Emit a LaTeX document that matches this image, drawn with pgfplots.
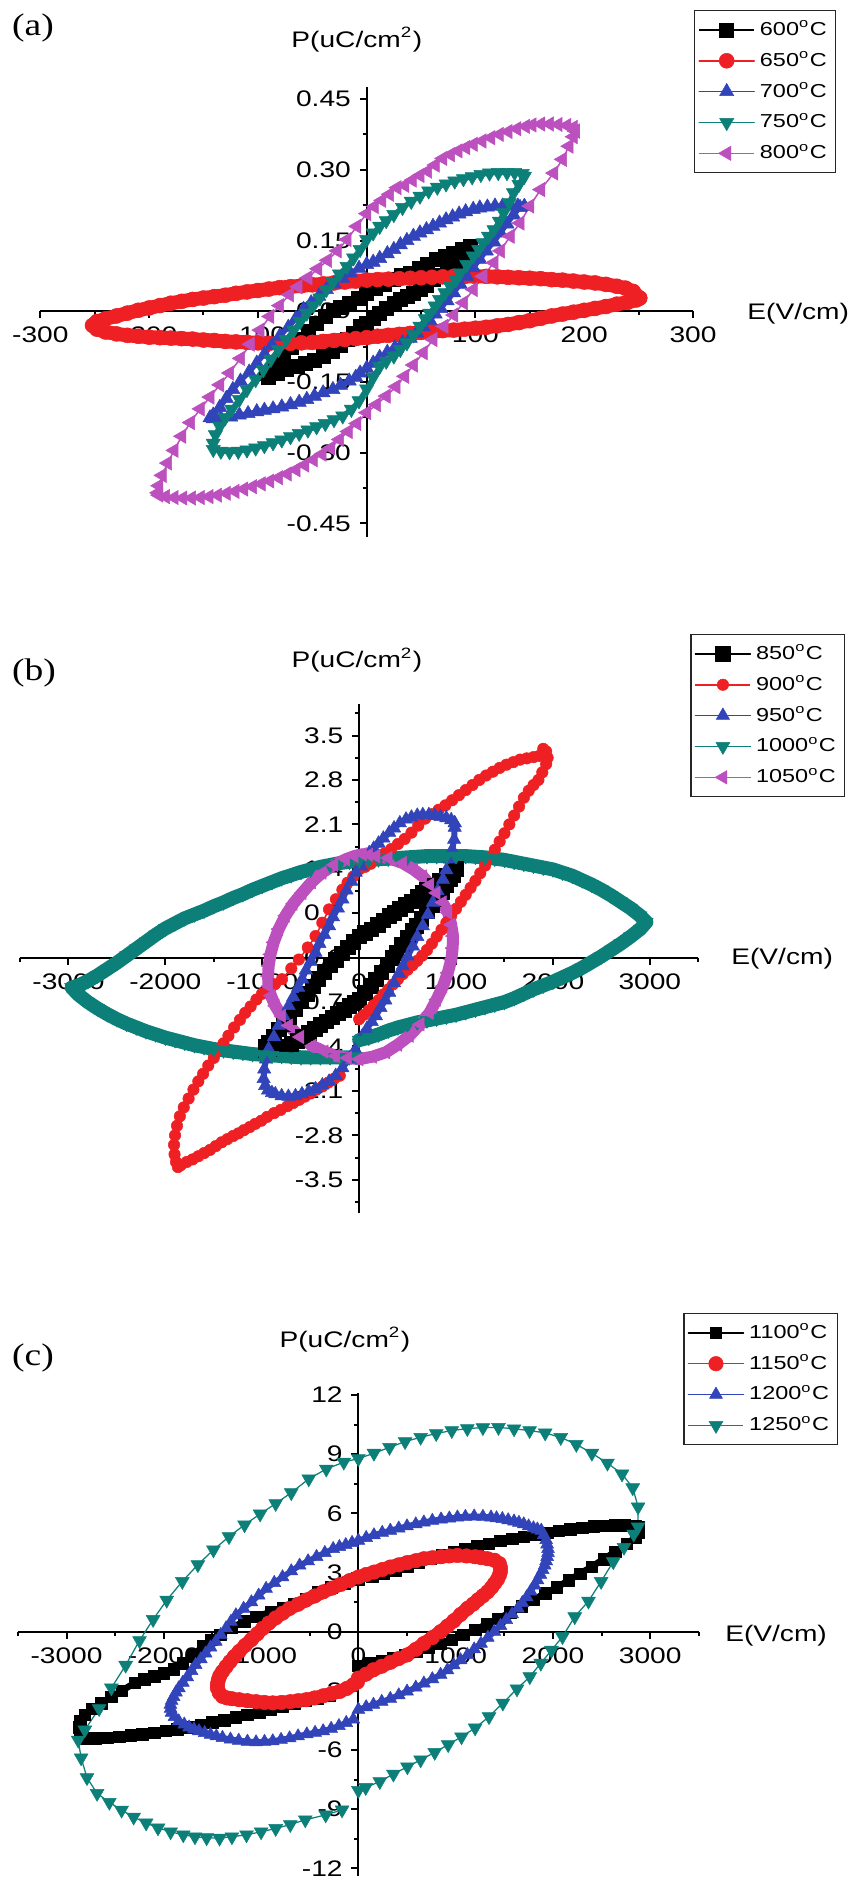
\documentclass[border=0pt]{standalone}
\usepackage{fontspec}
\setmainfont{Liberation Sans}
\newfontfamily\panelfont{Liberation Serif}
\usepackage{graphicx}
\usepackage{pgfplots}
\pgfplotsset{compat=1.18}
\definecolor{cred}{RGB}{238,32,36}
\definecolor{cblue}{RGB}{50,68,185}
\definecolor{cteal}{RGB}{12,128,120}
\definecolor{cmag}{RGB}{188,80,190}
\newcommand\sx[1]{\scalebox{1.25}[1]{\fontsize{9}{11}\selectfont #1}}
\newcommand\lx[1]{\scalebox{1.25}[1]{\fontsize{7.5}{9}\selectfont #1}}
\newcommand\px[1]{\scalebox{1.2}[1]{\panelfont\fontsize{12.5}{14}\selectfont #1}}
\tikzset{
  lbl/.style={inner sep=0pt},
  thick band/.style={line join=round, line cap=round},
}
\pgfplotsset{
  pe/.style={
    scale only axis, anchor=south west, clip=false,
    axis lines=middle, axis line style={-, line width=0.8pt},
    tick align=outside, major tick length=2.8pt, minor tick length=1.6pt,
    tick style={line width=0.8pt, black},
    hide obscured x ticks=false, hide obscured y ticks=false,
    legend cell align=left,
    legend style={draw=black!85, line width=0.6pt, anchor=north west,
      inner xsep=1.5pt, inner ysep=2pt, row sep=1.0pt},
    legend image code/.code={\draw[mark repeat=2,mark phase=2,line width=0.6pt]
      plot coordinates {(0pt,0pt) (11pt,0pt) (22pt,0pt)};},
  },
}
\begin{document}
\begin{tikzpicture}
\useasboundingbox (0,0) rectangle (342pt,752pt);
\node[inner sep=0pt] at (13.2pt,740.8pt) {\px{(a)}};
\node[inner sep=0pt] at (13.6pt,482.8pt) {\px{(b)}};
\node[inner sep=0pt] at (13.2pt,208.8pt) {\px{(c)}};

% ---------------- (a) ----------------
\begin{axis}[pe, at={(16.12pt,537.32pt)}, width=261.08pt, height=179.68pt,
  xmin=-300, xmax=300, ymin=-0.478, ymax=0.4745,
  xtick={-300,-200,-100,0,100,200,300},
  xticklabels={\sx{-300},\sx{-200},\sx{-100},\sx{0},\sx{100},\sx{200},\sx{300}},
  minor xtick={-250,-150,-50,50,150,250},
  ytick={-0.45,-0.3,-0.15,0,0.15,0.3,0.45},
  yticklabels={\sx{-0.45},\sx{-0.30},\sx{-0.15},\sx{0.00},\sx{0.15},\sx{0.30},\sx{0.45}},
  minor ytick={-0.375,-0.225,-0.075,0.075,0.225,0.375},
  legend style={at={(1.0015,1.1725)}}]
\addplot[color=black, line width=0.6pt, mark=square*, mark size=2.8pt, mark options={solid,line width=0.2pt}] coordinates {
(95,0.138) (88,0.131) (80,0.124) (72,0.117) (64,0.110) (56,0.100) (48,0.091) (40,0.081) (32,0.076) (24,0.068) (16,0.058) (8,0.048) (0,0.039) (-8,0.027) (-16,0.017) (-24,0.008) (-31,0.002) (-38,-0.010) (-46,-0.025) (-54,-0.042) (-61,-0.060) (-69,-0.077) (-77,-0.095) (-84,-0.113) (-92,-0.131)
(-90,-0.140) (-82,-0.131) (-74,-0.124) (-64,-0.117) (-56,-0.110) (-48,-0.103) (-40,-0.095) (-32,-0.084) (-24,-0.072) (-18,-0.060) (-12,-0.046) (-6,-0.032) (0,-0.025) (6,-0.014) (12,-0.004) (18,0.007) (25,0.018) (31,0.025) (37,0.032) (43,0.039) (49,0.046) (55,0.056) (61,0.067) (67,0.077) (74,0.088) (81,0.102) (89,0.117) (95,0.132)};
\addlegendentry{\lx{600\textsuperscript{o}C}}
\addplot[color=cred, thick band, line width=5.6pt, mark=*, mark size=3.0pt, mark options={solid,line width=0.2pt}] coordinates {
(251,0.028) (245,0.042) (238,0.049) (230,0.053) (220,0.057) (210,0.060) (200,0.062) (190,0.064) (180,0.066) (170,0.067) (160,0.069) (150,0.070) (140,0.071) (130,0.072) (120,0.073) (110,0.074) (100,0.074) (90,0.074) (80,0.074) (70,0.073) (60,0.072) (50,0.071) (40,0.070) (30,0.069) (20,0.068) (10,0.067) (0,0.066) (-10,0.064) (-20,0.062) (-30,0.060) (-40,0.058) (-50,0.056) (-60,0.054) (-70,0.052) (-80,0.050) (-90,0.047) (-100,0.044) (-110,0.041) (-120,0.038) (-130,0.034) (-140,0.031) (-150,0.028) (-160,0.025) (-170,0.021) (-180,0.017) (-190,0.012) (-200,0.007) (-210,0.002) (-220,-0.004) (-230,-0.010) (-240,-0.016) (-248,-0.022) (-252,-0.030)
(-248,-0.038) (-240,-0.044) (-230,-0.048) (-220,-0.051) (-210,-0.053) (-200,-0.055) (-190,-0.056) (-180,-0.057) (-170,-0.058) (-160,-0.059) (-150,-0.061) (-140,-0.062) (-130,-0.064) (-120,-0.065) (-110,-0.066) (-100,-0.067) (-90,-0.068) (-80,-0.068) (-70,-0.068) (-60,-0.067) (-50,-0.066) (-40,-0.064) (-30,-0.062) (-20,-0.060) (-10,-0.058) (0,-0.056) (10,-0.053) (20,-0.051) (30,-0.049) (40,-0.047) (50,-0.045) (60,-0.043) (70,-0.041) (80,-0.040) (90,-0.038) (100,-0.036) (110,-0.034) (120,-0.031) (130,-0.028) (140,-0.024) (150,-0.020) (160,-0.015) (170,-0.010) (180,-0.006) (190,-0.002) (200,0.002) (210,0.006) (220,0.010) (230,0.015) (240,0.019) (248,0.024) (251,0.028)};
\addlegendentry{\lx{650\textsuperscript{o}C}}
\addplot[color=cblue, thick band, line width=2pt, mark=triangle*, mark size=3.3pt, mark options={solid,line width=0.2pt}] coordinates {
(145,0.222) (139,0.223) (132,0.223) (125,0.223) (118,0.223) (111,0.221) (104,0.219) (98,0.216) (91,0.211) (85,0.206) (79,0.200) (73,0.194) (67,0.187) (61,0.180) (55,0.173) (49,0.166) (43,0.159) (37,0.150) (31,0.141) (25,0.131) (19,0.122) (12,0.112) (6,0.104) (0,0.099) (-7,0.091) (-15,0.081) (-22,0.070) (-30,0.058) (-37,0.046) (-44,0.032) (-51,0.018) (-58,0.004) (-65,-0.015) (-72,-0.034) (-80,-0.053) (-87,-0.072) (-94,-0.091) (-101,-0.110) (-108,-0.129) (-116,-0.148) (-123,-0.166) (-129,-0.185) (-135,-0.204) (-141,-0.220) (-144,-0.226)
(-141,-0.228) (-134,-0.227) (-125,-0.224) (-117,-0.220) (-109,-0.217) (-101,-0.213) (-94,-0.210) (-86,-0.207) (-78,-0.203) (-70,-0.198) (-62,-0.193) (-55,-0.187) (-48,-0.180) (-40,-0.173) (-31,-0.166) (-24,-0.157) (-16,-0.148) (-10,-0.140) (-6,-0.131)
(0,-0.121) (6,-0.110) (12,-0.098) (19,-0.087) (26,-0.077) (33,-0.067) (40,-0.057) (46,-0.046) (52,-0.033) (58,-0.019) (63,-0.006) (68,0.006) (74,0.022) (80,0.039) (86,0.057) (92,0.074) (98,0.092) (104,0.110) (110,0.128) (117,0.147) (123,0.166) (129,0.185) (135,0.204) (141,0.220) (145,0.222)};
\addlegendentry{\lx{700\textsuperscript{o}C}}
\addplot[color=cteal, thick band, line width=2pt, mark=triangle*, mark size=3.3pt, mark options={solid,rotate=180,line width=0.2pt}] coordinates {
(145,0.286) (143,0.292) (136,0.294) (129,0.294) (121,0.294) (113,0.293) (105,0.290) (97,0.285) (89,0.281) (81,0.276) (73,0.270) (65,0.263) (57,0.255) (49,0.244) (41,0.233) (33,0.220) (25,0.205) (18,0.192) (12,0.180) (6,0.166) (0,0.152) (-6,0.131) (-12,0.113) (-18,0.095) (-25,0.079) (-31,0.062) (-37,0.046) (-43,0.028) (-49,0.012) (-55,-0.004) (-61,-0.022) (-67,-0.040) (-74,-0.060) (-81,-0.081) (-88,-0.102) (-95,-0.124) (-102,-0.145) (-110,-0.166) (-117,-0.187) (-124,-0.208) (-130,-0.226) (-135,-0.244) (-139,-0.262) (-141,-0.280)
(-141,-0.293) (-134,-0.297) (-126,-0.298) (-118,-0.297) (-110,-0.294) (-102,-0.290) (-94,-0.285) (-86,-0.279) (-78,-0.273) (-70,-0.266) (-62,-0.259) (-54,-0.252) (-46,-0.245) (-38,-0.238) (-30,-0.230) (-22,-0.222) (-14,-0.208) (-7,-0.190) (0,-0.165) (6,-0.140) (12,-0.117) (18,-0.106) (25,-0.095) (31,-0.081) (37,-0.067) (43,-0.050) (49,-0.032) (54,-0.016) (58,-0.004) (63,0.011) (67,0.025) (72,0.039) (77,0.053) (82,0.067) (86,0.081) (92,0.099) (98,0.117) (103,0.131) (107,0.145) (112,0.159) (117,0.173) (122,0.191) (126,0.209) (131,0.230) (135,0.251) (140,0.269) (144,0.286)};
\addlegendentry{\lx{750\textsuperscript{o}C}}
\addplot[color=cmag, line width=0.6pt, mark=triangle*, mark size=3.3pt, mark options={solid,rotate=90,line width=0.2pt}] coordinates {
(192,0.382) (190,0.390) (184,0.394) (176,0.396) (168,0.397) (160,0.397) (152,0.395) (146,0.392) (138,0.387) (130,0.381) (122,0.375) (114,0.368) (106,0.361) (98,0.354) (91,0.347) (84,0.340) (77,0.332) (70,0.324) (63,0.310) (56,0.297) (49,0.288) (42,0.278) (35,0.267) (28,0.262) (21,0.248) (14,0.235) (7,0.222) (0,0.207) (-9,0.180) (-18,0.152) (-27,0.128) (-36,0.108) (-45,0.090) (-54,0.071) (-63,0.052) (-71,0.035) (-80,0.012) (-89,-0.011) (-98,-0.040) (-107,-0.070) (-116,-0.100) (-126,-0.131) (-135,-0.156) (-144,-0.182) (-153,-0.207) (-162,-0.236) (-170,-0.265) (-177,-0.295) (-183,-0.322) (-188,-0.348) (-191,-0.370) (-192,-0.385)
(-191,-0.390) (-185,-0.393) (-177,-0.395) (-169,-0.396) (-161,-0.396) (-153,-0.395) (-145,-0.393) (-137,-0.390) (-129,-0.386) (-121,-0.382) (-113,-0.377) (-105,-0.372) (-97,-0.366) (-89,-0.360) (-81,-0.353) (-73,-0.345) (-65,-0.336) (-57,-0.326) (-49,-0.315) (-41,-0.303) (-33,-0.290) (-25,-0.272) (-17,-0.255) (-9,-0.238) (0,-0.215) (9,-0.198) (18,-0.180) (27,-0.160) (35,-0.138) (43,-0.114) (52,-0.088) (61,-0.060) (71,-0.032) (80,-0.008) (89,0.018) (98,0.046) (107,0.074) (117,0.103) (123,0.128) (132,0.159) (141,0.187) (150,0.223) (160,0.258) (172,0.293) (180,0.322) (186,0.350) (190,0.370) (192,0.382)};
\addlegendentry{\lx{800\textsuperscript{o}C}}
\node[lbl, anchor=west] at (axis description cs:1.0827,0.4958) {\sx{E(V/cm)}};
\node[lbl, anchor=center] at (axis description cs:0.485,1.106) {\sx{P(uC/cm\textsuperscript{2})}};
\end{axis}

% ---------------- (b) ----------------
\begin{axis}[pe, at={(8.0pt,266.64pt)}, width=271.32pt, height=203.84pt,
  xmin=-3500, xmax=3500, ymin=-4.03, ymax=4.0,
  xtick={-3000,-2000,-1000,0,1000,2000,3000},
  xticklabels={\sx{-3000},\sx{-2000},\sx{-1000},\sx{0},\sx{1000},\sx{2000},\sx{3000}},
  minor xtick={-3500,-2500,-1500,-500,500,1500,2500,3500},
  ytick={-3.5,-2.8,-2.1,-1.4,-0.7,0,0.7,1.4,2.1,2.8,3.5},
  yticklabels={\sx{-3.5},\sx{-2.8},\sx{-2.1},\sx{-1.4},\sx{-0.7},\sx{0.0},\sx{0.7},\sx{1.4},\sx{2.1},\sx{2.8},\sx{3.5}},
  minor ytick={-3.85,-3.15,-2.45,-1.75,-1.05,-0.35,0.35,1.05,1.75,2.45,3.15,3.85},
  legend style={at={(0.988,1.137)}}]
\addplot[color=black, thick band, line width=5pt, mark=square*, mark size=2.9pt, mark options={solid,line width=0.2pt}] coordinates {
(1003,1.40) (969,1.35) (900,1.29) (830,1.21) (760,1.14) (700,1.07) (657,1.02) (600,0.96) (540,0.89) (480,0.83) (420,0.77) (360,0.71) (311,0.66) (250,0.59) (190,0.52) (125,0.45) (60,0.39) (0,0.34) (-60,0.25) (-120,0.16) (-180,0.07) (-242,-0.03) (-300,-0.12) (-360,-0.22) (-420,-0.33) (-480,-0.45) (-540,-0.57) (-600,-0.68) (-657,-0.81) (-720,-0.93) (-780,-1.04) (-830,-1.13) (-880,-1.24) (-934,-1.34) (-969,-1.40)
(-969,-1.45) (-900,-1.44) (-830,-1.42) (-760,-1.40) (-700,-1.36) (-640,-1.31) (-580,-1.25) (-519,-1.18) (-460,-1.12) (-400,-1.06) (-340,-1.00) (-280,-0.94) (-220,-0.88) (-160,-0.82) (-104,-0.76) (-50,-0.71) (0,-0.66) (60,-0.55) (120,-0.44) (173,-0.34) (230,-0.23) (290,-0.11) (340,0.00) (381,0.08) (440,0.20) (500,0.32) (550,0.42) (588,0.50) (640,0.61) (700,0.73) (750,0.83) (796,0.92) (850,1.03) (900,1.14) (940,1.24) (969,1.31) (1003,1.40)};
\addlegendentry{\lx{850\textsuperscript{o}C}}
\addplot[color=cred, line width=0.6pt, mark=*, mark size=2.3pt, mark options={solid,line width=0.2pt}] coordinates {
(0,-0.97) (50,-0.90) (100,-0.83) (150,-0.75) (200,-0.67) (250,-0.58) (300,-0.50) (350,-0.42) (400,-0.34) (450,-0.26) (500,-0.19) (550,-0.12) (600,-0.05) (650,0.03) (700,0.12) (750,0.22) (800,0.33) (850,0.44) (900,0.55) (950,0.66) (1000,0.77) (1050,0.88) (1100,0.99) (1150,1.10) (1200,1.21) (1250,1.33) (1300,1.45) (1350,1.57) (1400,1.70) (1450,1.83) (1500,1.96) (1550,2.10) (1600,2.24) (1650,2.38) (1700,2.52) (1750,2.63) (1800,2.72) (1850,2.80) (1890,2.92) (1930,3.05) (1945,3.15) (1930,3.25) (1900,3.29)
(1860,3.18) (1800,3.16) (1730,3.14) (1660,3.12) (1590,3.08) (1520,3.04) (1450,2.99) (1380,2.93) (1310,2.87) (1240,2.80) (1170,2.72) (1100,2.64) (1030,2.56) (960,2.48) (890,2.40) (820,2.33) (750,2.26) (680,2.19) (610,2.08) (540,1.97) (470,1.87) (400,1.79) (330,1.71) (260,1.64) (190,1.57) (120,1.48) (60,1.43) (0,1.39) (-60,1.28) (-120,1.18) (-173,1.07) (-240,0.92) (-311,0.76) (-380,0.55) (-450,0.34) (-530,0.16) (-623,-0.03) (-700,-0.17) (-796,-0.34) (-870,-0.42) (-940,-0.49) (-1003,-0.57) (-1060,-0.66) (-1120,-0.77) (-1176,-0.87) (-1230,-0.98) (-1290,-1.10) (-1349,-1.23) (-1400,-1.35) (-1450,-1.46) (-1500,-1.58) (-1557,-1.70) (-1610,-1.83) (-1660,-1.95) (-1710,-2.08) (-1760,-2.22) (-1810,-2.36) (-1850,-2.50) (-1880,-2.65) (-1900,-2.80) (-1910,-2.95) (-1905,-3.10) (-1890,-3.22) (-1870,-3.30)
(-1840,-3.27) (-1780,-3.22) (-1720,-3.18) (-1660,-3.13) (-1600,-3.08) (-1540,-3.03) (-1480,-2.97) (-1419,-2.91) (-1360,-2.86) (-1300,-2.81) (-1247,-2.77) (-1190,-2.72) (-1130,-2.67) (-1073,-2.62) (-1010,-2.57) (-950,-2.51) (-878,-2.45) (-810,-2.40) (-740,-2.34) (-680,-2.29) (-620,-2.24) (-560,-2.19) (-500,-2.14) (-440,-2.08) (-380,-2.03) (-320,-1.97) (-260,-1.91) (-200,-1.86)};
\addlegendentry{\lx{900\textsuperscript{o}C}}
\addplot[color=cblue, thick band, line width=2.4pt, mark=triangle*, mark size=3.1pt, mark options={solid,line width=0.2pt}] coordinates {
(986,2.12) (950,2.17) (900,2.20) (840,2.22) (780,2.24) (720,2.25) (657,2.25) (600,2.24) (540,2.21) (484,2.18) (420,2.12) (360,2.04) (311,1.97) (250,1.88) (200,1.80) (150,1.72) (104,1.65) (60,1.55) (20,1.44) (-35,1.34) (-80,1.20) (-130,1.06) (-173,0.92) (-220,0.78) (-270,0.64) (-311,0.50) (-360,0.36) (-410,0.22) (-450,0.08) (-500,-0.06) (-550,-0.20) (-588,-0.34) (-630,-0.47) (-680,-0.62) (-727,-0.76) (-780,-0.92) (-830,-1.07) (-880,-1.25) (-934,-1.44) (-960,-1.60) (-980,-1.76) (-986,-1.91)
(-970,-2.02) (-940,-2.09) (-900,-2.13) (-865,-2.15) (-800,-2.18) (-730,-2.19) (-657,-2.18) (-590,-2.15) (-520,-2.11) (-450,-2.07) (-380,-2.01) (-310,-1.95) (-242,-1.86) (-173,-1.74) (-104,-1.60) (-40,-1.45) (35,-1.23) (80,-1.12) (130,-1.01) (173,-0.92) (220,-0.79) (270,-0.67) (311,-0.55) (360,-0.40) (410,-0.25) (450,-0.13) (500,0.02) (554,0.18) (600,0.33) (657,0.50) (710,0.68) (761,0.87) (810,1.05) (865,1.23) (900,1.38) (934,1.55) (960,1.70) (980,1.86) (986,2.05) (986,2.12)};
\addlegendentry{\lx{950\textsuperscript{o}C}}
\addplot[color=cteal, thick band, line width=5.6pt, mark=triangle*, mark size=3.2pt, mark options={solid,rotate=180,line width=0.2pt}] coordinates {
(0,-1.30) (100,-1.26) (200,-1.21) (300,-1.15) (400,-1.10) (500,-1.06) (600,-1.02) (700,-0.99) (800,-0.96) (900,-0.93) (1000,-0.90) (1100,-0.86) (1200,-0.82) (1300,-0.78) (1400,-0.74) (1500,-0.70) (1600,-0.64) (1700,-0.57) (1800,-0.50) (1900,-0.44) (2000,-0.38) (2100,-0.31) (2200,-0.24) (2300,-0.16) (2400,-0.07) (2500,0.02) (2600,0.12) (2700,0.22) (2800,0.33) (2900,0.45) (2964,0.56)
(2900,0.66) (2800,0.78) (2700,0.88) (2600,0.98) (2500,1.07) (2400,1.15) (2300,1.22) (2200,1.29) (2100,1.34) (2000,1.39) (1900,1.42) (1800,1.45) (1700,1.48) (1600,1.51) (1500,1.54) (1400,1.56) (1300,1.58) (1200,1.59) (1100,1.60) (1000,1.60) (900,1.60) (800,1.60) (700,1.60) (600,1.59) (500,1.58) (400,1.57) (300,1.56) (200,1.55) (100,1.54) (0,1.53) (-100,1.51) (-200,1.49) (-300,1.46) (-400,1.43) (-500,1.39) (-600,1.35) (-700,1.30) (-800,1.25) (-900,1.19) (-1000,1.13) (-1100,1.07) (-1200,1.00) (-1300,0.94) (-1400,0.87) (-1500,0.81) (-1600,0.74) (-1700,0.68) (-1800,0.62) (-1900,0.54) (-2000,0.46) (-2100,0.36) (-2200,0.25) (-2300,0.14) (-2400,0.03) (-2500,-0.08) (-2600,-0.18) (-2700,-0.28) (-2800,-0.37) (-2900,-0.44) (-2968,-0.47)
(-2900,-0.58) (-2800,-0.70) (-2700,-0.80) (-2600,-0.89) (-2500,-0.97) (-2400,-1.04) (-2300,-1.10) (-2200,-1.16) (-2100,-1.21) (-2000,-1.26) (-1900,-1.30) (-1800,-1.34) (-1700,-1.38) (-1600,-1.41) (-1500,-1.44) (-1400,-1.46) (-1300,-1.48) (-1200,-1.50) (-1100,-1.52) (-1000,-1.53) (-900,-1.54) (-800,-1.55) (-700,-1.56) (-600,-1.57) (-500,-1.57) (-400,-1.57) (-300,-1.57) (-200,-1.57) (-100,-1.57) (-30,-1.56)};
\addlegendentry{\lx{1000\textsuperscript{o}C}}
\addplot[color=cmag, thick band, line width=4.8pt, mark=triangle*, mark size=3.1pt, mark options={solid,rotate=90,line width=0.2pt}] coordinates {
(173,1.60) (300,1.57) (450,1.49) (560,1.39) (657,1.28) (730,1.15) (796,1.02) (860,0.87) (917,0.71) (950,0.52) (969,0.34) (965,0.15) (951,-0.03) (915,-0.24) (865,-0.45) (800,-0.66) (727,-0.87) (630,-1.05) (519,-1.23) (400,-1.37) (277,-1.49) (140,-1.56) (0,-1.60) (-120,-1.58) (-242,-1.55) (-360,-1.48) (-484,-1.39) (-610,-1.25) (-727,-1.07) (-800,-0.92) (-865,-0.76) (-910,-0.60) (-934,-0.45) (-940,-0.29) (-934,-0.13) (-915,0.05) (-882,0.24) (-830,0.45) (-761,0.66) (-680,0.85) (-588,1.02) (-490,1.19) (-381,1.34) (-260,1.46) (-138,1.55) (-50,1.60) (35,1.63) (100,1.62) (173,1.60)};
\addlegendentry{\lx{1050\textsuperscript{o}C}}
\node[lbl, anchor=west] at (axis description cs:1.048,0.4992) {\sx{E(V/cm)}};
\node[lbl, anchor=center] at (axis description cs:0.4968,1.086) {\sx{P(uC/cm\textsuperscript{2})}};
\end{axis}

% ---------------- (c) ----------------
\begin{axis}[pe, at={(7.16pt,1.52pt)}, width=272.4pt, height=193.24pt,
  xmin=-3500, xmax=3500, ymin=-12.4, ymax=12.1,
  xtick={-3000,-2000,-1000,0,1000,2000,3000},
  xticklabels={\sx{-3000},\sx{-2000},\sx{-1000},\sx{0},\sx{1000},\sx{2000},\sx{3000}},
  minor xtick={-3500,-2500,-1500,-500,500,1500,2500,3500},
  ytick={-12,-9,-6,-3,0,3,6,9,12},
  yticklabels={\sx{-12},\sx{-9},\sx{-6},\sx{-3},\sx{0},\sx{3},\sx{6},\sx{9},\sx{12}},
  minor ytick={-10.5,-7.5,-4.5,-1.5,1.5,4.5,7.5,10.5},
  legend style={at={(0.977,1.166)}}]
\addplot[color=black, thick band, line width=2.6pt, mark=square*, mark size=2.3pt, mark options={solid,line width=0.2pt}] coordinates {
(0,-1.72) (120,-1.60) (240,-1.47) (360,-1.32) (480,-1.17) (600,-1.00) (720,-0.82) (840,-0.62) (960,-0.40) (1080,-0.15) (1200,0.10) (1320,0.38) (1440,0.66) (1560,0.98) (1680,1.30) (1800,1.62) (1920,1.95) (2040,2.25) (2160,2.60) (2280,2.95) (2400,3.30) (2520,3.68) (2640,4.05) (2760,4.45) (2850,4.80) (2880,5.05) (2880,5.30)
(2850,5.35) (2740,5.40) (2640,5.40) (2530,5.38) (2420,5.34) (2300,5.28) (2180,5.20) (2060,5.12) (1940,5.02) (1820,4.92) (1700,4.82) (1580,4.72) (1460,4.60) (1340,4.47) (1220,4.34) (1100,4.20) (980,4.05) (860,3.88) (740,3.70) (620,3.50) (500,3.30) (380,3.12) (260,2.95) (140,2.80) (0,2.65) (-140,2.45) (-280,2.25) (-420,2.00) (-540,1.68) (-660,1.42) (-780,1.20) (-900,1.00) (-1052,0.76) (-1175,0.52) (-1300,0.20) (-1420,-0.15) (-1511,-0.40) (-1600,-0.75) (-1700,-1.20) (-1804,-1.60) (-1900,-1.90) (-2000,-2.10) (-2098,-2.25) (-2200,-2.40) (-2300,-2.60) (-2434,-3.00) (-2540,-3.30) (-2644,-3.63) (-2740,-3.90) (-2812,-4.20) (-2860,-4.55) (-2875,-4.85) (-2860,-5.15)
(-2810,-5.40) (-2700,-5.40) (-2580,-5.37) (-2460,-5.32) (-2340,-5.26) (-2220,-5.20) (-2100,-5.12) (-1980,-5.03) (-1860,-4.94) (-1740,-4.84) (-1620,-4.72) (-1500,-4.60) (-1380,-4.48) (-1260,-4.35) (-1140,-4.22) (-1020,-4.08) (-900,-3.95) (-780,-3.80) (-660,-3.65) (-540,-3.50) (-420,-3.38) (-300,-3.25)};
\addlegendentry{\lx{1100\textsuperscript{o}C}}
\addplot[color=cred, thick band, line width=5.4pt, mark=*, mark size=2.9pt, mark options={solid,line width=0.2pt}] coordinates {
(0,-2.35) (80,-2.15) (155,-1.93) (240,-1.75) (330,-1.55) (415,-1.36) (500,-1.18) (590,-0.90) (673,-0.60) (760,-0.30) (845,0.00) (915,0.28) (980,0.55) (1050,0.87) (1121,1.18) (1180,1.40) (1230,1.62) (1280,1.82) (1328,2.02) (1370,2.25) (1400,2.45) (1430,2.66) (1449,2.86) (1460,3.05) (1460,3.25) (1449,3.45)
(1400,3.62) (1328,3.70) (1260,3.76) (1200,3.80) (1110,3.84) (1018,3.87) (935,3.84) (850,3.80) (760,3.75) (673,3.70) (590,3.60) (500,3.50) (415,3.39) (328,3.28) (245,3.15) (160,3.02) (80,2.90) (0,2.77) (-90,2.59) (-180,2.40) (-270,2.21) (-362,2.02) (-450,1.81) (-540,1.60) (-620,1.39) (-707,1.18) (-780,0.94) (-850,0.70) (-920,0.44) (-983,0.17) (-1040,-0.11) (-1100,-0.40) (-1165,-0.70) (-1225,-1.00) (-1275,-1.26) (-1320,-1.52) (-1360,-1.77) (-1397,-2.02) (-1425,-2.24) (-1440,-2.45) (-1449,-2.66) (-1449,-2.86) (-1430,-3.10) (-1397,-3.28)
(-1350,-3.36) (-1300,-3.40) (-1225,-3.45) (-1140,-3.50) (-1050,-3.55) (-965,-3.59) (-880,-3.61) (-790,-3.59) (-700,-3.55) (-620,-3.50) (-535,-3.45) (-450,-3.36) (-360,-3.25) (-275,-3.14) (-190,-3.03) (-120,-2.88) (-52,-2.69) (-10,-2.55)};
\addlegendentry{\lx{1150\textsuperscript{o}C}}
\addplot[color=cblue, thick band, line width=2.3pt, mark=triangle*, mark size=3.0pt, mark options={solid,line width=0.2pt}] coordinates {
(0,-3.95) (80,-3.82) (155,-3.70) (240,-3.55) (328,-3.40) (415,-3.22) (500,-3.03) (590,-2.83) (673,-2.62) (760,-2.40) (845,-2.18) (915,-1.95) (980,-1.70) (1050,-1.44) (1121,-1.18) (1190,-0.89) (1260,-0.60) (1330,-0.30) (1397,0.00) (1460,0.30) (1520,0.60) (1580,0.89) (1639,1.18) (1685,1.46) (1730,1.75) (1770,2.05) (1811,2.35) (1840,2.62) (1870,2.90) (1895,3.13) (1915,3.36) (1930,3.58) (1940,3.80) (1949,4.00) (1949,4.20) (1940,4.43) (1930,4.65) (1905,4.90) (1880,5.13)
(1840,5.19) (1800,5.25) (1750,5.35) (1700,5.45) (1650,5.53) (1600,5.60) (1540,5.66) (1480,5.72) (1420,5.76) (1363,5.80) (1280,5.83) (1190,5.85) (1100,5.83) (1018,5.80) (935,5.75) (850,5.70) (760,5.63) (673,5.55) (590,5.45) (500,5.35) (415,5.24) (328,5.13) (245,5.02) (160,4.90) (80,4.76) (0,4.62) (-65,4.51) (-130,4.40) (-195,4.30) (-259,4.20) (-345,4.00) (-430,3.80) (-517,3.58) (-604,3.36) (-690,3.07) (-780,2.77) (-865,2.48) (-949,2.18) (-1025,1.84) (-1100,1.50) (-1180,1.17) (-1259,0.84) (-1310,0.51) (-1360,0.18) (-1415,-0.16) (-1466,-0.50) (-1520,-0.80) (-1570,-1.10) (-1620,-1.39) (-1673,-1.68) (-1715,-1.99) (-1760,-2.30) (-1805,-2.58) (-1846,-2.86) (-1875,-3.08) (-1900,-3.30) (-1920,-3.50) (-1932,-3.70) (-1930,-3.90) (-1920,-4.10) (-1890,-4.32) (-1846,-4.54)
(-1790,-4.70) (-1740,-4.85) (-1690,-4.95) (-1639,-5.04) (-1580,-5.13) (-1520,-5.22) (-1460,-5.30) (-1397,-5.38) (-1315,-5.46) (-1230,-5.52) (-1140,-5.57) (-1052,-5.60) (-965,-5.58) (-880,-5.55) (-795,-5.48) (-707,-5.40) (-620,-5.30) (-530,-5.20) (-445,-5.12) (-362,-5.04) (-280,-4.92) (-200,-4.78) (-125,-4.62) (-52,-4.45)};
\addlegendentry{\lx{1200\textsuperscript{o}C}}
\addplot[color=cteal, line width=0.5pt, mark=triangle*, mark size=3.2pt, mark options={solid,rotate=180,line width=0.2pt}] coordinates {
(-168,-9.04) (-336,-9.29) (-546,-9.54) (-700,-9.78) (-850,-9.98) (-1000,-10.15) (-1150,-10.30) (-1300,-10.40) (-1427,-10.47) (-1560,-10.45) (-1680,-10.40) (-1800,-10.30) (-1930,-10.15) (-2060,-9.95) (-2182,-9.70) (-2310,-9.40) (-2434,-9.05) (-2560,-8.65) (-2686,-8.20) (-2790,-7.40) (-2850,-6.40) (-2880,-5.50)
(-2812,-4.98) (-2665,-3.90) (-2539,-2.85) (-2392,-1.70) (-2250,-0.45) (-2110,0.62) (-1970,1.60) (-1810,2.55) (-1650,3.40) (-1490,4.15) (-1330,4.82) (-1170,5.42) (-1010,5.97) (-850,6.50) (-690,7.05) (-510,7.75) (-330,8.25) (-150,8.60) (0,8.78)
(160,9.05) (320,9.35) (480,9.64) (640,9.86) (800,10.05) (960,10.20) (1120,10.30) (1280,10.35) (1440,10.36) (1600,10.29) (1760,10.20) (1920,10.08) (2080,9.85) (2240,9.50) (2400,9.05) (2560,8.55) (2710,8.00) (2820,7.30) (2875,6.33) (2875,5.32)
(2830,4.95) (2730,4.28) (2620,3.55) (2495,2.55) (2365,1.55) (2224,0.76) (2098,-0.25) (1985,-0.94) (1875,-1.60) (1762,-2.28) (1630,-2.90) (1485,-3.62) (1343,-4.31) (1200,-4.88) (1060,-5.33) (923,-5.73) (785,-6.12) (640,-6.50) (504,-6.85) (360,-7.22) (220,-7.60) (75,-7.90) (0,-8.05)};
\addlegendentry{\lx{1250\textsuperscript{o}C}}
\node[lbl, anchor=west] at (axis description cs:1.038,0.4984) {\sx{E(V/cm)}};
\node[lbl, anchor=center] at (axis description cs:0.4803,1.111) {\sx{P(uC/cm\textsuperscript{2})}};
\end{axis}
\end{tikzpicture}
\end{document}
